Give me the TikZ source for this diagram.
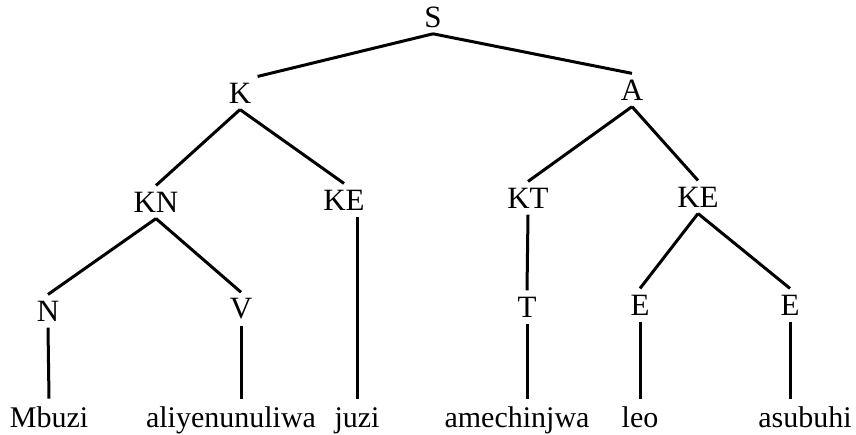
\documentclass[tikz,border=0pt]{standalone}
\usepackage{fontspec}
\setmainfont{Liberation Serif}
\usetikzlibrary{positioning,calc}

\begin{document}
\begin{tikzpicture}
  [x=0.5pt,y=-0.5pt,
   catN/.style={inner sep=3pt,font=\fontsize{15.5}{18}\selectfont},
   wordN/.style={inner sep=3pt,anchor=base,text height=11pt,text depth=0pt,
                 font=\fontsize{15}{18}\selectfont},
   branch/.style={line width=1.5pt}]

  \useasboundingbox (0,0) rectangle (856,434);

  % categories
  \node[catN] (S)   at (433,17)  {S};
  \node[catN] (K)   at (240,93)  {K};
  \node[catN] (A)   at (632,90)  {A};
  \node[catN] (KN)  at (156,202) {KN};
  \node[catN] (KE1) at (344,200) {KE};
  \node[catN] (KT)  at (528,198) {KT};
  \node[catN] (KE2) at (698,197) {KE};
  \node[catN] (N)   at (48,311)  {N};
  \node[catN] (V)   at (241,309) {V};
  \node[catN] (T)   at (527,307) {T};
  \node[catN] (E1)  at (640,305) {E};
  \node[catN] (E2)  at (790,305) {E};

  % words
  \node[wordN] (mbuzi) at (49,427)  {Mbuzi};
  \node[wordN] (ali)   at (231,427) {aliyenunuliwa};
  \node[wordN] (juzi)  at (357,427) {juzi};
  \node[wordN] (ame)   at (517,427) {amechinjwa};
  \node[wordN] (leo)   at (640,427) {leo};
  \node[wordN] (asu)   at (805,427) {asubuhi};

  \draw [branch] (S.south) -- (K.north east);
  \draw [branch] (S.south) -- (A.north);
  \draw [branch] (K.south) -- (KN.north);
  \draw [branch] (K.south) -- (KE1.north);
  \draw [branch] (A.south) -- (KT.north);
  \draw [branch] (A.south) -- (KE2.north);
  \draw [branch] (KN.south) -- (N.north);
  \draw [branch] (KN.south) -- (V.north);
  \draw [branch] (KT.south) -- (T.north);
  \draw [branch] (KE2.south) -- (E1.north);
  \draw [branch] (KE2.south) -- (E2.north);

  \draw [branch] (N.south) -- (mbuzi.north);
  \draw [branch] (V.south) -- (V.south |- ali.north);
  \draw [branch] (juzi.north |- KE1.south) -- (juzi.north);
  \draw [branch] (T.south) -- (T.south |- ame.north);
  \draw [branch] (E1.south) -- (leo.north);
  \draw [branch] (E2.south) -- (E2.south |- asu.north);

\end{tikzpicture}
\end{document}
